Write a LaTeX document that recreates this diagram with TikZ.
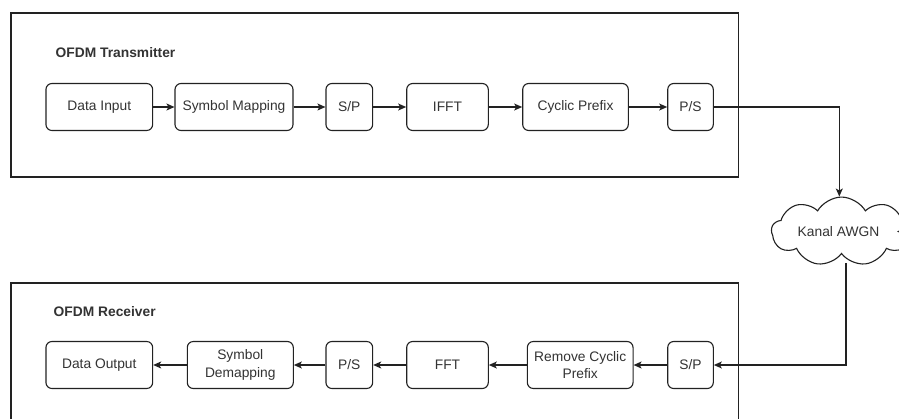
\documentclass[tikz,border=0pt]{standalone}
\usepackage{fontspec}
\setmainfont{Liberation Sans}
\usetikzlibrary{arrows.meta,shapes.symbols}
\definecolor{ink}{HTML}{222222}
\definecolor{txt}{HTML}{333333}
\tikzset{
  blk/.style={draw=ink, line width=1.1pt, rounded corners=6pt, inner sep=0pt,
    minimum height=47pt, text=txt, align=center,
    font=\fontsize{13.8}{17.5}\selectfont},
  frame/.style={draw=ink, line width=1.2pt},
  title/.style={anchor=west, inner sep=0pt, text=txt, font=\fontsize{13.8}{16}\selectfont\bfseries},
  arr/.style={draw=ink, line width=1.1pt, -{Stealth[length=8pt,width=7pt,inset=2pt]}},
  cloudbox/.style={cloud, cloud puffs=9, cloud puff arc=120, aspect=2.1, draw=ink, line width=1.1pt,
    inner sep=0pt, minimum width=140pt, minimum height=68pt, text=txt,
    font=\fontsize{13.8}{16}\selectfont}
}
\begin{document}
\begin{tikzpicture}[x=1pt,y=-1pt]
\useasboundingbox (0,0) rectangle (899,418);
\clip (0,0) rectangle (899,418);
\fill[white] (0,0) rectangle (899,418);
% frames
\draw[frame] (11,13) rectangle (738.5,177);
\draw[frame] (11,283) rectangle (738.5,440);
\node[title] (ttx) at (55.5,53) {OFDM Transmitter};
\node[title] (trx) at (53.5,311.5) {OFDM Receiver};
% transmitter
\node[blk, minimum width=106.7pt] (din)  at (99.3,107) {Data Input};
\node[blk, minimum width=118pt]   (smap) at (234,107) {Symbol Mapping};
\node[blk, minimum width=46.7pt]  (sp1)  at (349.3,107) {S/P};
\node[blk, minimum width=81.6pt]  (ifft) at (447.5,107) {IFFT};
\node[blk, minimum width=105.6pt] (cp)   at (575.5,107) {Cyclic Prefix};
\node[blk, minimum width=45.6pt]  (ps1)  at (690.5,107) {P/S};
% receiver
\node[blk, minimum width=106.7pt] (dout) at (99.3,365) {Data Output};
\node[blk, minimum width=106pt]   (sdm)  at (240.3,365) {Symbol\\Demapping};
\node[blk, minimum width=46.7pt]  (ps2)  at (349.3,365) {P/S};
\node[blk, minimum width=81.6pt]  (fft)  at (447.5,365) {FFT};
\node[blk, minimum width=105.7pt] (rcp)  at (580.2,365) {Remove Cyclic\\Prefix};
\node[blk, minimum width=45.6pt]  (sp2)  at (690.5,365) {S/P};
% channel
\node[cloudbox] (ch) at (841.5,231.5) {\hspace*{-6pt}Kanal AWGN};
\coordinate (chb) at (846,263);
\coordinate (chr) at (897,231.5);
\coordinate (ext) at (940,231.5);
% connectors
\draw[arr] (din) -- (smap);
\draw[arr] (smap) -- (sp1);
\draw[arr] (sp1) -- (ifft);
\draw[arr] (ifft) -- (cp);
\draw[arr] (cp) -- (ps1);
\draw[arr] (ps1.east) -| (ch.north -| 839.3,0);
\draw[arr] (ext) -- (chr);
\draw[arr] (chb) |- (sp2.east);
\draw[arr] (sp2) -- (rcp);
\draw[arr] (rcp) -- (fft);
\draw[arr] (fft) -- (ps2);
\draw[arr] (ps2) -- (sdm);
\draw[arr] (sdm) -- (dout);
\end{tikzpicture}
\end{document}
